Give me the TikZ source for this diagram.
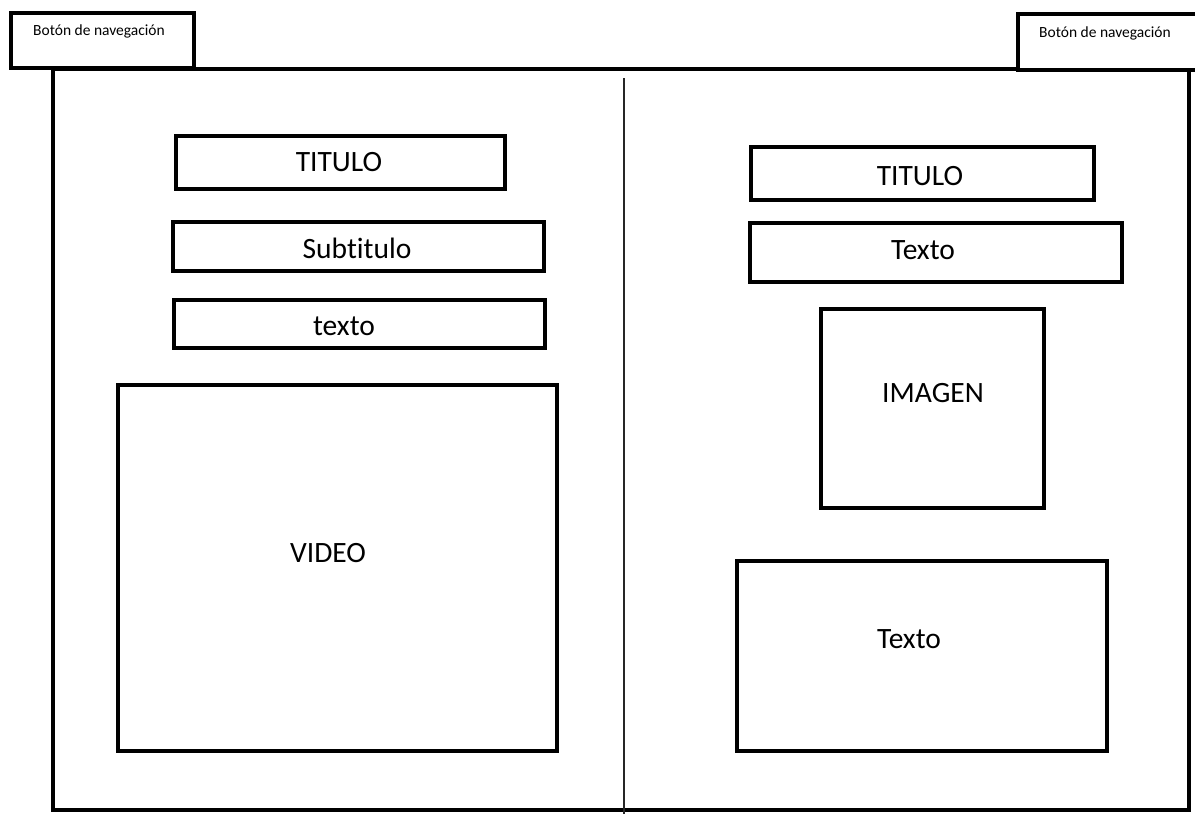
\documentclass[tikz,border=0pt]{standalone}
\usepackage{fontspec}
\setmainfont{Carlito}[Ligatures=NoCommon]

\begin{document}
\begin{tikzpicture}[
      x=1pt, y=-1pt,
      box/.style={draw, line width=4pt, fill=white, inner sep=0pt},
      lbl/.style={anchor=base, inner sep=0pt, font=\fontsize{29.5}{31}\selectfont},
      navlbl/.style={anchor=base, inner sep=0pt, font=\fontsize{15.5}{17}\selectfont}
    ]
      \useasboundingbox (0,0) rectangle (1195,814);
      % outer frame and divider
      \node[box, minimum width=1136pt, minimum height=741pt] (frame) at (621,439.5) {};
      \coordinate (divtop) at (624,78);
      \coordinate (divbot) at (624,814);
      \draw[line width=1.5pt, black!85] (divtop) -- (divbot);
      % navigation buttons
      \node[box, minimum width=183pt, minimum height=55pt] (navl) at (102.5,40.5) {};
      \node[box, minimum width=182pt, minimum height=56pt] (navr) at (1109,42) {};
      \node[navlbl] (navltext) at (99,35) {Botón de navegación};
      \node[navlbl] (navrtext) at (1105,37) {Botón de navegación};
      % left column
      \node[box, minimum width=329pt, minimum height=53pt] (titl) at (340.5,162.5) {};
      \node[box, minimum width=371pt, minimum height=49pt] (subt) at (358.5,246.5) {};
      \node[box, minimum width=371pt, minimum height=48pt] (txtl) at (359.5,324) {};
      \node[box, minimum width=439pt, minimum height=366pt] (video) at (337.5,568) {};
      \node[lbl] (titltext) at (339,171) {TITULO};
      \node[lbl] (subttext) at (357,258) {Subtitulo};
      \node[lbl] (txtltext) at (344,335) {texto};
      \node[lbl] (videotext) at (328,562) {VIDEO};
      % right column
      \node[box, minimum width=343pt, minimum height=53pt] (titr) at (922,173) {};
      \node[box, minimum width=372pt, minimum height=59pt] (txtr) at (936,252) {};
      \node[box, minimum width=223pt, minimum height=199pt] (imagen) at (932.5,408.5) {};
      \node[box, minimum width=370pt, minimum height=190pt] (txtb) at (922,656) {};
      \node[lbl] (titrtext) at (920,185) {TITULO};
      \node[lbl] (txtrtext) at (923,259) {Texto};
      \node[lbl] (imagentext) at (933,402) {IMAGEN};
      \node[lbl] (txtbtext) at (909,648) {Texto};
    \end{tikzpicture}
\end{document}
